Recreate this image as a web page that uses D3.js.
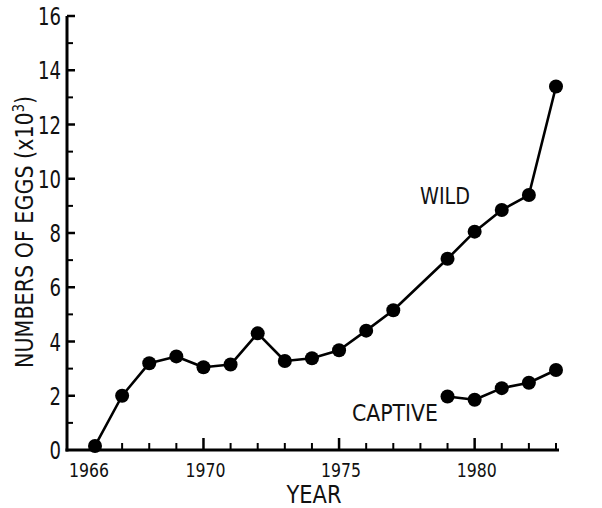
<!DOCTYPE html>
<html>
<head>
<meta charset="utf-8">
<script src="https://cdn.jsdelivr.net/npm/d3@7"></script>
<style>
  html, body { margin: 0; padding: 0; background: #fff; }
  svg { display: block; }
  text { font-family: "DejaVu Sans Condensed", "Liberation Sans Narrow", "Liberation Sans", sans-serif; font-stretch: condensed; fill: #111; }
</style>
</head>
<body>
<svg id="chart" width="602" height="508"></svg>
<script>
// Egg counts (thousands) by year
const wildYears    = [1966, 1967, 1968, 1969, 1970, 1971, 1972, 1973, 1974, 1975, 1976, 1977, 1979, 1980, 1981, 1982, 1983];
const wildEggs     = [0.15, 2.0, 3.2, 3.45, 3.05, 3.15, 4.3, 3.28, 3.38, 3.68, 4.4, 5.15, 7.05, 8.05, 8.85, 9.4, 13.4];
const captiveYears = [1979, 1980, 1981, 1982, 1983];
const captiveEggs  = [1.97, 1.85, 2.28, 2.48, 2.95];

const yTickValues = [0, 2, 4, 6, 8, 10, 12, 14, 16];
const yMinorTicks = [1, 3, 5, 7, 9, 11, 13, 15];
const xTickLabels = [1966, 1970, 1975, 1980];
const xMajorTicks = [1970, 1975, 1980];
const xMinorTicks = [1967, 1968, 1969, 1971, 1972, 1973, 1974, 1976, 1977, 1978, 1979, 1981, 1982, 1983];

const svg = d3.select("#chart");

const axisX = 67, axisY = 450;
const x = d3.scaleLinear().domain([1966, 1983]).range([95, 556]);
const y = d3.scaleLinear().domain([0, 16]).range([450, 16]);

// Axis lines
svg.append("line").attr("x1", axisX).attr("x2", axisX)
  .attr("y1", y(16)).attr("y2", axisY + 1.5)
  .attr("stroke", "#000").attr("stroke-width", 3);
svg.append("line").attr("x1", axisX - 1.5).attr("x2", 559)
  .attr("y1", axisY).attr("y2", axisY)
  .attr("stroke", "#000").attr("stroke-width", 3);

// Y ticks point inward (right)
svg.append("g").selectAll("line").data(yTickValues.filter(d => d > 0)).join("line")
  .attr("x1", axisX).attr("x2", axisX + 8)
  .attr("y1", d => y(d)).attr("y2", d => y(d))
  .attr("stroke", "#000").attr("stroke-width", 2.5);
svg.append("g").selectAll("line").data(yMinorTicks).join("line")
  .attr("x1", axisX).attr("x2", axisX + 6)
  .attr("y1", d => y(d)).attr("y2", d => y(d))
  .attr("stroke", "#000").attr("stroke-width", 2);

// Y tick labels (narrow, tall digits)
svg.append("g").selectAll("text").data(yTickValues).join("text")
  .attr("x", axisX - 6).attr("y", d => y(d) + 9)
  .attr("text-anchor", "end")
  .attr("font-size", 25)
  .attr("textLength", d => String(d).length * 11.5)
  .attr("lengthAdjust", "spacingAndGlyphs")
  .text(d => d);

// X ticks point inward (up)
svg.append("g").selectAll("line").data(xMajorTicks).join("line")
  .attr("x1", d => x(d)).attr("x2", d => x(d))
  .attr("y1", axisY).attr("y2", axisY - 12)
  .attr("stroke", "#000").attr("stroke-width", 2.5);
svg.append("g").selectAll("line").data(xMinorTicks).join("line")
  .attr("x1", d => x(d)).attr("x2", d => x(d))
  .attr("y1", axisY).attr("y2", axisY - 7)
  .attr("stroke", "#000").attr("stroke-width", 2);

// X tick labels
svg.append("g").selectAll("text").data(xTickLabels).join("text")
  .attr("x", d => x(d) + (d === 1966 ? -6 : 2)).attr("y", 477)
  .attr("text-anchor", "middle")
  .attr("font-size", 20)
  .attr("textLength", 40)
  .attr("lengthAdjust", "spacingAndGlyphs")
  .text(d => d);

// Axis titles
svg.append("text").attr("x", 314).attr("y", 503)
  .attr("text-anchor", "middle").attr("font-size", 25)
  .attr("textLength", 55).attr("lengthAdjust", "spacingAndGlyphs")
  .text("YEAR");

const yTitle = svg.append("text")
  .attr("transform", "translate(33,232) rotate(-90)")
  .attr("text-anchor", "middle").attr("font-size", 24)
  .attr("textLength", 272).attr("lengthAdjust", "spacingAndGlyphs");
yTitle.append("tspan").text("NUMBERS  OF  EGGS  (x10");
yTitle.append("tspan").attr("font-size", 15).attr("dy", -9).text("3");
yTitle.append("tspan").attr("dy", 9).text(")");

// Series lines and markers
const line = d3.line().x(d => x(d[0])).y(d => y(d[1]));
const wild = wildYears.map((yr, i) => [yr, wildEggs[i]]);
const captive = captiveYears.map((yr, i) => [yr, captiveEggs[i]]);

[wild, captive].forEach(series => {
  svg.append("path").datum(series)
    .attr("d", line)
    .attr("fill", "none").attr("stroke", "#000").attr("stroke-width", 2.6)
    .attr("stroke-linejoin", "round");
  svg.append("g").selectAll("circle").data(series).join("circle")
    .attr("cx", d => x(d[0])).attr("cy", d => y(d[1]))
    .attr("r", 7).attr("fill", "#000");
});

// Series labels
svg.append("text").attr("x", 420).attr("y", 204)
  .attr("font-size", 23).attr("textLength", 50).attr("lengthAdjust", "spacingAndGlyphs")
  .text("WILD");
svg.append("text").attr("x", 352).attr("y", 421)
  .attr("font-size", 23).attr("textLength", 86).attr("lengthAdjust", "spacingAndGlyphs")
  .text("CAPTIVE");
</script>
</body>
</html>
